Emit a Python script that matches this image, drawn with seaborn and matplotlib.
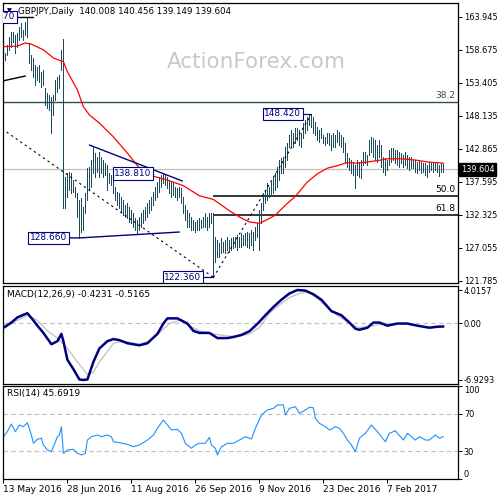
import matplotlib
matplotlib.use("Agg")
import matplotlib.pyplot as plt
import seaborn as sns

# GBPJPY daily bars, index 0 = 13 May 2016 (one bar per trading day)
bar_high = [
    157.56, 158.20, 159.47, 160.75, 161.55, 161.55, 161.07, 161.39, 162.35, 162.99,
    161.87, 163.15, 163.87, 159.79, 157.88, 157.40, 156.28, 155.96, 156.28, 155.16,
    155.48, 152.61, 151.81, 151.49, 151.17, 151.49, 153.88, 154.36, 154.68, 158.68,
    160.43, 138.39, 139.03, 139.19, 139.03, 137.91, 136.80, 135.84, 134.72, 135.04,
    133.60, 135.84, 139.83, 139.99, 141.11, 143.18, 142.23, 141.59, 142.39, 141.59,
    141.11, 140.63, 140.31, 139.03, 138.71, 137.91, 136.80, 136.00, 135.84, 135.20,
    134.72, 133.92, 134.24, 133.60, 133.12, 132.64, 131.85, 131.53, 132.00, 132.64,
    133.12, 133.60, 134.24, 134.72, 135.20, 136.00, 136.80, 137.59, 138.39, 138.71,
    138.81, 138.71, 138.39, 137.91, 137.59, 137.43, 136.80, 136.64, 136.80, 136.64,
    135.20, 133.92, 133.12, 132.64, 132.00, 131.53, 131.21, 131.53, 131.85, 131.53,
    132.00, 132.64, 132.00, 132.64, 132.64, 132.64, 128.81, 128.33, 127.85, 128.65,
    128.01, 128.33, 128.81, 128.33, 128.65, 128.81, 128.81, 129.13, 128.81, 129.45,
    129.13, 129.45, 129.61, 129.45, 129.93, 129.61, 130.41, 131.05, 133.12, 134.24,
    135.84, 136.32, 137.43, 136.80, 137.59, 138.39, 139.03, 139.99, 141.11, 141.43,
    141.59, 143.18, 143.82, 145.10, 145.90, 145.42, 146.22, 146.22, 145.90, 145.42,
    147.02, 147.50, 147.98, 148.30, 148.42, 147.98, 147.18, 146.38, 145.90, 146.22,
    145.10, 144.78, 145.42, 145.42, 145.10, 145.42, 145.10, 145.90, 145.58, 145.10,
    144.78, 143.82, 142.23, 141.43, 141.11, 140.79, 140.31, 141.11, 140.79, 141.11,
    142.39, 142.39, 141.91, 144.30, 144.78, 144.62, 144.30, 143.50, 144.30, 143.50,
    141.59, 141.43, 141.11, 142.70, 143.02, 143.02, 142.70, 142.70, 142.39, 142.23,
    141.91, 142.39, 141.91, 141.59, 141.59, 141.11, 141.11, 140.79, 141.11, 140.79,
    140.63, 140.63, 140.31, 140.79, 140.63, 140.63, 140.79, 140.63, 140.31, 140.63,
    140.456,
]
bar_low = [
    155.80, 157.08, 157.88, 158.68, 159.15, 159.95, 158.20, 159.15, 160.27, 160.75,
    160.27, 161.07, 160.75, 156.60, 155.48, 154.36, 153.09, 153.88, 153.56, 152.77,
    153.09, 149.89, 149.41, 149.09, 145.42, 148.30, 150.69, 151.97, 152.61, 155.48,
    133.44, 133.44, 135.20, 136.32, 135.84, 136.00, 135.20, 132.00, 128.66, 129.61,
    129.93, 132.64, 134.72, 136.32, 136.80, 139.03, 138.39, 139.19, 138.39, 139.03,
    138.39, 138.71, 136.32, 137.43, 137.12, 135.84, 134.72, 133.92, 133.44, 132.80,
    132.32, 132.00, 131.84, 131.21, 131.05, 130.41, 129.93, 129.45, 129.93, 130.41,
    131.05, 131.53, 132.00, 132.64, 133.12, 133.92, 134.72, 135.20, 136.00, 136.80,
    137.43, 137.12, 136.64, 135.84, 135.20, 135.52, 135.20, 134.72, 135.20, 134.24,
    132.64, 131.53, 130.41, 130.41, 129.93, 129.93, 129.61, 129.93, 129.93, 130.25,
    130.41, 130.41, 129.93, 130.41, 131.05, 122.36, 124.82, 125.62, 125.62, 126.26,
    126.42, 126.26, 126.73, 126.42, 126.73, 127.05, 127.21, 126.73, 127.21, 127.21,
    127.53, 127.53, 127.21, 127.05, 127.53, 126.73, 128.33, 128.81, 126.73, 131.05,
    133.12, 134.24, 134.72, 135.20, 135.52, 135.84, 136.32, 136.80, 137.91, 139.03,
    139.03, 139.99, 141.11, 143.18, 143.18, 143.18, 143.82, 144.30, 143.50, 143.18,
    144.62, 145.42, 145.90, 146.70, 146.38, 145.42, 145.10, 144.30, 143.98, 144.62,
    143.82, 143.50, 143.82, 143.50, 142.70, 143.18, 143.18, 143.98, 143.50, 143.18,
    142.39, 140.79, 139.99, 139.51, 139.03, 138.71, 136.64, 138.71, 138.39, 138.23,
    140.31, 140.63, 140.31, 141.91, 142.39, 141.59, 141.11, 140.79, 141.59, 139.99,
    139.19, 138.71, 139.51, 140.31, 140.79, 141.11, 140.63, 140.31, 139.99, 140.63,
    139.99, 140.31, 139.83, 139.51, 139.83, 139.83, 139.19, 139.03, 139.51, 139.03,
    139.19, 138.71, 138.39, 139.19, 139.51, 139.19, 139.51, 139.19, 138.55, 139.19,
    139.149,
]
bar_idx = list(range(len(bar_high)))

# moving average (red), read at selected bars
ma_idx = [0, 7, 11, 14, 20, 25, 30, 32, 37, 40, 43, 48, 55, 62, 68, 74, 82, 90, 98, 105,
          113, 118, 123, 128, 132, 136, 141, 146, 152, 157, 162, 167, 172, 177, 182, 187,
          192, 199, 206, 212, 220]
ma_val = [159.2, 159.3, 159.8, 159.6, 158.7, 157.4, 156.8, 155.2, 152.3, 149.6, 148.3,
          147.0, 144.8, 142.2, 139.8, 138.6, 137.9, 137.0, 135.4, 134.8, 133.0, 132.0,
          131.2, 131.0, 131.6, 132.3, 133.9, 135.3, 137.6, 138.9, 139.8, 140.2, 140.7,
          140.6, 140.8, 141.0, 141.3, 141.3, 141.1, 140.8, 140.6]

# MACD(12,26,9)
macd_idx = [0, 4, 7, 12, 15, 17, 20, 24, 27, 29, 30, 32, 35, 38, 40, 42, 45, 48, 52, 55,
            58, 62, 68, 72, 77, 80, 82, 87, 92, 95, 98, 103, 107, 112, 115, 119, 123, 127,
            131, 135, 139, 143, 147, 151, 155, 159, 164, 169, 173, 176, 178, 182, 185, 188,
            192, 197, 202, 207, 213, 217, 220]
macd_val = [-0.57, 0.06, 0.69, 1.20, 0.32, -0.32, -1.20, -2.58, -2.21, -1.32, -2.21, -4.47,
            -5.61, -6.87, -6.93, -6.87, -4.73, -3.09, -2.21, -1.95, -2.08, -2.46, -2.71,
            -2.46, -1.32, -0.06, 0.57, 0.57, -0.06, -0.95, -1.20, -1.20, -1.83, -1.83,
            -1.70, -1.45, -1.00, -0.10, 0.95, 1.95, 2.84, 3.60, 4.02, 3.95, 3.50, 2.84,
            1.45, 0.95, 0.06, -0.69, -0.82, -0.57, 0.06, 0.06, -0.32, -0.06, -0.06, -0.32,
            -0.57, -0.44, -0.42]
sig_idx = [0, 5, 12, 17, 22, 27, 32, 37, 42, 45, 48, 52, 55, 60, 68, 73, 78, 83, 88, 93,
           98, 105, 112, 118, 123, 128, 133, 138, 143, 148, 153, 157, 162, 167, 173, 178,
           185, 190, 198, 207, 215, 220]
sig_val = [-0.69, 0.06, 0.95, 0.32, -0.95, -1.83, -3.09, -4.73, -6.24, -5.99, -4.73, -3.47,
           -2.46, -2.21, -2.58, -2.21, -1.20, -0.06, 0.32, -0.32, -0.95, -1.32, -1.58,
           -1.58, -1.32, -0.57, 1.20, 2.21, 3.10, 3.60, 3.75, 3.00, 1.90, 0.95, -0.06,
           -0.57, -0.32, -0.06, -0.06, -0.32, -0.57, -0.52]

# RSI(14)
rsi_idx = [0, 2, 4, 6, 8, 10, 12, 14, 15, 17, 19, 20, 22, 24, 25, 27, 28, 29, 30, 32,
           35, 37, 39, 41, 42, 44, 47, 49, 52, 54, 55, 58, 62, 65, 68, 72, 75, 77, 80, 82,
           84, 87, 89, 91, 94, 96, 98, 101, 103, 104, 106, 107, 109, 112, 115, 118, 121,
           124, 126, 129, 132, 135, 137, 140, 141, 143, 146, 148, 151, 153, 155, 156, 158,
           161, 163, 166, 168, 170, 172, 174, 176, 178, 181, 184, 187, 189, 191, 193, 196,
           197, 200, 202, 204, 206, 208, 211, 213, 216, 218, 220]
rsi_val = [45.5, 50.9, 59.1, 50.9, 58.1, 56.2, 60.5, 47.3, 38.4, 42.7, 43.8, 36.6, 31.2,
           29.4, 34.7, 45.5, 47.3, 56.2, 27.6, 31.2, 31.9, 27.6, 25.8, 27.6, 41.9, 45.5,
           47.3, 45.5, 47.3, 45.5, 40.1, 39.0, 37.3, 34.7, 36.6, 41.9, 47.3, 54.5, 63.4,
           58.1, 52.7, 53.4, 49.1, 38.4, 33.0, 36.6, 38.4, 38.4, 44.8, 36.6, 33.0, 25.8,
           34.7, 38.4, 38.4, 41.9, 45.5, 43.0, 54.5, 68.8, 74.2, 76.0, 79.6, 79.6, 68.8,
           76.0, 77.7, 70.6, 74.2, 77.1, 76.5, 65.3, 59.9, 56.2, 52.7, 56.2, 54.5, 49.1,
           41.9, 36.6, 29.4, 43.8, 49.1, 58.1, 50.9, 45.5, 40.1, 49.1, 51.9, 49.1, 41.9,
           49.1, 45.5, 41.9, 45.5, 41.9, 41.9, 47.3, 43.8, 45.69]

date_pos = [0, 32, 64, 96, 128, 160, 192]
date_labels = ["13 May 2016", "28 Jun 2016", "11 Aug 2016", "26 Sep 2016",
               "9 Nov 2016", "23 Dec 2016", "7 Feb 2017"]
price_ticks = [163.945, 158.675, 153.405, 148.135, 142.865, 137.595, 132.325, 127.055, 121.785]
macd_ticks = [4.0157, 0.0, -6.9293]
rsi_ticks = [100, 70, 30, 0]

last_close = 139.604
fib_382 = 150.43
fib_500 = 135.39
fib_618 = 132.31

BAR = "#1d4b5c"
NAVY = "#000080"
SILVER = "#c0c0c0"
FS = 6.5
TICK_FS = 5.9

sns.set_style("white")
plt.rcParams["font.family"] = ["DejaVu Sans"]

fig = plt.figure(figsize=(5, 5), dpi=100)


def px_box(l, t, r, b):
    return [l / 500, 1 - b / 500, (r - l) / 500, (b - t) / 500]


ax = fig.add_axes(px_box(3, 3, 458, 283))
ax_m = fig.add_axes(px_box(3, 286, 458, 384))
ax_r = fig.add_axes(px_box(3, 386, 458, 479))

for a in (ax, ax_m, ax_r):
    a.set_xlim(-0.2, 227.3)
    a.set_facecolor("white")
    for s in a.spines.values():
        s.set_color("black")
        s.set_linewidth(0.9)
    a.yaxis.tick_right()
    a.tick_params(axis="y", direction="out", length=3, width=0.7, pad=1.2,
                  labelsize=TICK_FS, colors="black")
    a.tick_params(axis="x", bottom=False, labelbottom=False)

# ---- main price panel ----
ax.set_ylim(121.46, 166.18)
ax.text(0.557, 0.789, "ActionForex.com", transform=ax.transAxes, fontsize=15.5,
        color="#c8c8c8", ha="center", va="center", zorder=0.5)
ax.axhline(last_close, color=SILVER, lw=0.9, zorder=1)
ax.axhline(fib_382, color="#2f4f4f", lw=1.0, zorder=1)
ax.hlines([fib_500, fib_618], 105, 227.3, color="black", lw=1.1, zorder=1)

ax.vlines(bar_idx, bar_low, bar_high, color=BAR, lw=0.55, antialiased=False, zorder=2)
sns.lineplot(x=ma_idx, y=ma_val, ax=ax, color="red", lw=0.9, zorder=3)

# trend lines
ax.plot([-0.65, 105], [146.08, 122.36], color="black", lw=0.8, ls=(0, (2, 3)), zorder=3)
ax.plot([105, 154], [122.36, 148.42], color="black", lw=0.8, ls=(0, (2, 3)), zorder=3)
ax.plot([43, 89.5], [143.5, 137.75], color=NAVY, lw=1.0, zorder=3)
ax.plot([33, 38, 88], [128.66, 128.66, 129.6], color=NAVY, lw=1.0, zorder=3)
ax.plot([-0.5, 11], [153.72, 154.52], color="black", lw=1.0, zorder=3)
ax.plot([0, 15], [163.87, 163.87], color="black", lw=1.0, zorder=3)
ax.plot([94.5, 105], [122.36, 122.36], color=NAVY, lw=0.9, zorder=3)
ax.plot([149, 154], [148.42, 148.42], color=NAVY, lw=0.9, zorder=3)

box_kw = dict(boxstyle="square,pad=0.18", fc="white", ec=NAVY, lw=0.8)
for xi, yv, txt, ha in [(22.5, 128.66, "128.660", "center"),
                        (64.75, 138.95, "138.810", "center"),
                        (89.75, 122.40, "122.360", "center"),
                        (139.75, 148.50, "148.420", "center"),
                        (6.0, 163.95, "163.870", "right")]:
    ax.text(xi, yv, txt, ha=ha, va="center", fontsize=FS, color=NAVY,
            bbox=box_kw, zorder=5, clip_on=True)

for yv, txt, col in [(fib_382, "38.2", "#2f4f4f"), (fib_500, "50.0", "black"),
                     (fib_618, "61.8", "black")]:
    ax.annotate(txt, xy=(1, yv), xycoords=("axes fraction", "data"), xytext=(-2, 1.5),
                textcoords="offset points", ha="right", va="bottom", fontsize=FS, color=col)

ax.text(0.013, 0.971, "\u25bc", transform=ax.transAxes, fontsize=4.5, ha="center",
        va="center", color="black")
ax.text(0.033, 0.971, "GBPJPY,Daily  140.008 140.456 139.149 139.604",
        transform=ax.transAxes, fontsize=6.3, ha="left", va="center", color="black")

ax.set_yticks(price_ticks)
ax.set_yticklabels([f"{v:.3f}" for v in price_ticks])
ax.annotate(f"{last_close:.3f}", xy=(1, last_close), xycoords=("axes fraction", "data"),
            xytext=(2.0, 0), textcoords="offset points", ha="left", va="center",
            fontsize=TICK_FS, color="white", zorder=6, annotation_clip=False,
            bbox=dict(boxstyle="square,pad=0.25", fc="black", ec="black"))

# ---- MACD panel ----
ax_m.set_ylim(-7.42, 4.51)
ax_m.axhline(0, color=SILVER, lw=0.8, ls=(0, (4, 3)), zorder=1)
sns.lineplot(x=sig_idx, y=sig_val, ax=ax_m, color=SILVER, lw=0.9, zorder=2)
sns.lineplot(x=macd_idx, y=macd_val, ax=ax_m, color=NAVY, lw=1.8, zorder=3)
ax_m.set_yticks(macd_ticks)
ax_m.set_yticklabels(["4.0157", "0.00", "-6.9293"])
ax_m.text(0.009, 0.918, "MACD(12,26,9) -0.4231 -0.5165", transform=ax_m.transAxes,
          fontsize=FS, ha="left", va="center", color="black")

# ---- RSI panel ----
ax_r.set_ylim(0, 100)
ax_r.axhline(70, color=SILVER, lw=0.8, ls=(0, (4, 3)), zorder=1)
ax_r.axhline(30, color=SILVER, lw=0.8, ls=(0, (4, 3)), zorder=1)
sns.lineplot(x=rsi_idx, y=rsi_val, ax=ax_r, color="#1e90ff", lw=0.8, zorder=2)
ax_r.set_yticks(rsi_ticks)
ax_r.set_yticklabels([str(v) for v in rsi_ticks])
labs = ax_r.get_yticklabels()
labs[0].set_va("top")
labs[-1].set_va("bottom")
ax_r.text(0.009, 0.914, "RSI(14) 45.6919", transform=ax_r.transAxes,
          fontsize=FS, ha="left", va="center", color="black")

ax_r.set_xticks(date_pos)
ax_r.set_xticklabels(date_labels)
ax_r.tick_params(axis="x", bottom=True, labelbottom=True, direction="out", length=3,
                 width=0.7, pad=1.5, labelsize=FS, colors="black")
for lbl in ax_r.get_xticklabels():
    lbl.set_ha("left")

for a in (ax, ax_m, ax_r):
    a.set_xlabel("")
    a.set_ylabel("")
    if a.get_legend() is not None:
        a.get_legend().remove()

fig.savefig("out.png", dpi=100, facecolor="white")
